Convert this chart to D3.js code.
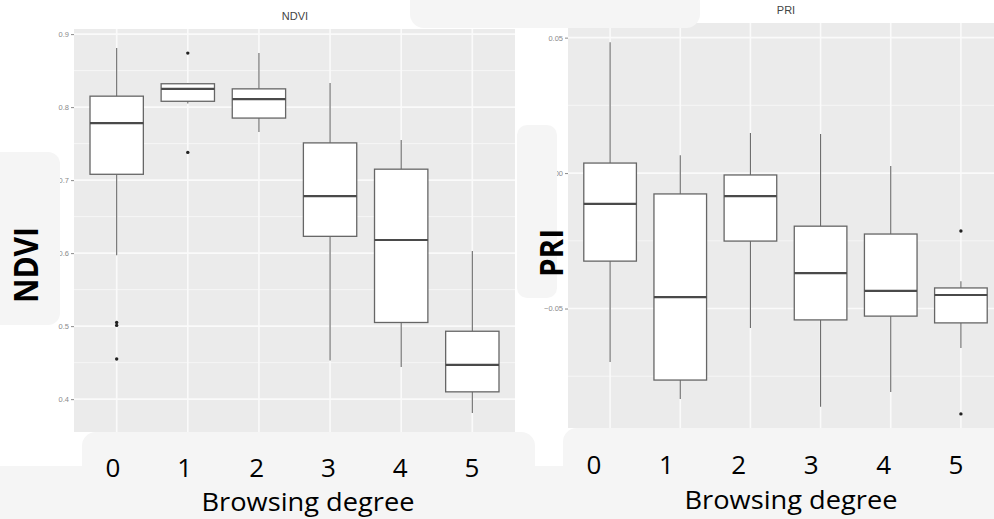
<!DOCTYPE html>
<html>
<head>
<meta charset="utf-8">
<script src="https://cdn.jsdelivr.net/npm/d3@7"></script>
<style>
  body { margin: 0; background: #fff; }
  svg { display: block; }
</style>
</head>
<body>
<div id="chart"></div>
<script>
// browsing degree groups
const categories = ["0", "1", "2", "3", "4", "5"];

// NDVI box stats
const ndviLow = [0.597, 0.805, 0.766, 0.453, 0.444, 0.381];
const ndviQ1 = [0.708, 0.808, 0.785, 0.623, 0.505, 0.410];
const ndviMedian = [0.778, 0.825, 0.811, 0.678, 0.618, 0.447];
const ndviQ3 = [0.815, 0.832, 0.825, 0.751, 0.715, 0.493];
const ndviHigh = [0.881, 0.833, 0.874, 0.833, 0.755, 0.603];
const ndviOutliers = [["0", 0.505], ["0", 0.501], ["0", 0.455], ["1", 0.874], ["1", 0.738]];
const ndviTicks = [0.4, 0.5, 0.6, 0.7, 0.8, 0.9];
const ndviMinor = [0.45, 0.55, 0.65, 0.75, 0.85];

// PRI box stats
const priLow = [-0.0697, -0.0834, -0.0572, -0.0863, -0.0808, -0.0646];
const priQ1 = [-0.0325, -0.0764, -0.0251, -0.0542, -0.0528, -0.0553];
const priMedian = [-0.0114, -0.0458, -0.0085, -0.0369, -0.0435, -0.0450];
const priQ3 = [0.0037, -0.0077, -0.0007, -0.0196, -0.0225, -0.0424];
const priHigh = [0.0483, 0.0066, 0.0148, 0.0144, 0.0026, -0.0399];
const priOutliers = [["5", -0.0214], ["5", -0.0889]];
const priTicks = [-0.05, 0, 0.05];
const priMinor = [-0.075, -0.025, 0.025];

const xLabel = "Browsing degree";

const svg = d3.select("#chart")
    .append("svg")
    .attr("width", 994)
    .attr("height", 519);

svg.append("rect")
    .attr("width", 994)
    .attr("height", 519)
    .attr("fill", "#fff");

class BoxPanel {
    constructor(_config, _data) {
        this.config = _config;
        this.data = _data;
        this.InitVis();
    }

    InitVis() {
        const vis = this;
        const c = vis.config;

        vis.g = svg.append("g");

        vis.x = d3.scalePoint()
            .domain(categories)
            .range([c.left, c.right])
            .padding(0.6);

        vis.y = d3.scaleLinear()
            .domain(c.domain)
            .range([c.bottom, c.top]);

        // panel background
        vis.g.append("rect")
            .attr("x", c.left)
            .attr("y", c.top)
            .attr("width", c.right - c.left)
            .attr("height", c.bottom - c.top)
            .attr("fill", "#ebebeb");

        // grid
        vis.g.selectAll(".minor")
            .data(c.minor)
            .enter()
            .append("line")
            .attr("x1", c.left)
            .attr("x2", c.right)
            .attr("y1", d => vis.y(d))
            .attr("y2", d => vis.y(d))
            .attr("stroke", "#f6f6f6")
            .attr("stroke-width", 1);

        vis.g.selectAll(".major")
            .data(c.ticks)
            .enter()
            .append("line")
            .attr("x1", c.left)
            .attr("x2", c.right)
            .attr("y1", d => vis.y(d))
            .attr("y2", d => vis.y(d))
            .attr("stroke", "#fafafa")
            .attr("stroke-width", 1.6);

        vis.g.selectAll(".vgrid")
            .data(categories)
            .enter()
            .append("line")
            .attr("x1", d => vis.x(d))
            .attr("x2", d => vis.x(d))
            .attr("y1", c.top)
            .attr("y2", c.bottom)
            .attr("stroke", "#fafafa")
            .attr("stroke-width", 1.6);

        // y axis
        const yAxis = d3.axisLeft(vis.y)
            .tickValues(c.ticks)
            .tickSize(3)
            .tickPadding(2)
            .tickFormat(c.format);

        const ax = vis.g.append("g")
            .attr("transform", `translate(${c.left},0)`)
            .call(yAxis);
        ax.select(".domain").remove();
        ax.selectAll("line").attr("stroke", "#8a8a8a");
        ax.selectAll("text")
            .attr("fill", "#8a8a8a")
            .attr("font-family", "Liberation Sans, sans-serif")
            .attr("font-size", "7.5px");

        // title
        vis.g.append("text")
            .attr("x", c.titleX)
            .attr("y", c.titleY)
            .attr("text-anchor", "middle")
            .attr("font-family", "Liberation Sans, sans-serif")
            .attr("font-size", "11px")
            .attr("fill", "#444")
            .text(c.title);

        vis.UpdateVis();
    }

    UpdateVis() {
        const vis = this;
        const d = vis.data;
        const bw = vis.x.step() * 0.75;

        const rows = categories.map((cat, i) => ({
            cat: cat,
            low: d.low[i], q1: d.q1[i], med: d.median[i], q3: d.q3[i], high: d.high[i]
        }));

        const boxes = vis.g.selectAll(".box")
            .data(rows)
            .enter()
            .append("g");

        boxes.append("line")
            .attr("x1", r => vis.x(r.cat))
            .attr("x2", r => vis.x(r.cat))
            .attr("y1", r => vis.y(r.high))
            .attr("y2", r => vis.y(r.q3))
            .attr("stroke", "#6a6a6a")
            .attr("stroke-width", 1.1);

        boxes.append("line")
            .attr("x1", r => vis.x(r.cat))
            .attr("x2", r => vis.x(r.cat))
            .attr("y1", r => vis.y(r.q1))
            .attr("y2", r => vis.y(r.low))
            .attr("stroke", "#6a6a6a")
            .attr("stroke-width", 1.1);

        boxes.append("rect")
            .attr("x", r => vis.x(r.cat) - bw / 2)
            .attr("y", r => vis.y(r.q3))
            .attr("width", bw)
            .attr("height", r => vis.y(r.q1) - vis.y(r.q3))
            .attr("fill", "#fff")
            .attr("stroke", "#666")
            .attr("stroke-width", 1.3);

        boxes.append("line")
            .attr("x1", r => vis.x(r.cat) - bw / 2)
            .attr("x2", r => vis.x(r.cat) + bw / 2)
            .attr("y1", r => vis.y(r.med))
            .attr("y2", r => vis.y(r.med))
            .attr("stroke", "#4a4a4a")
            .attr("stroke-width", 2.2);

        vis.g.selectAll(".outlier")
            .data(d.outliers)
            .enter()
            .append("circle")
            .attr("cx", o => vis.x(o[0]))
            .attr("cy", o => vis.y(o[1]))
            .attr("r", 1.7)
            .attr("fill", "#222");
    }
}

new BoxPanel({
    left: 74, right: 515, top: 29, bottom: 432,
    domain: [0.355, 0.907],
    ticks: ndviTicks, minor: ndviMinor,
    format: d3.format(".1f"),
    title: "NDVI", titleX: 295, titleY: 20
}, {low: ndviLow, q1: ndviQ1, median: ndviMedian, q3: ndviQ3, high: ndviHigh, outliers: ndviOutliers});

new BoxPanel({
    left: 568, right: 1003, top: 23, bottom: 428,
    domain: [-0.0941, 0.0554],
    ticks: priTicks, minor: priMinor,
    format: d3.format(".2f"),
    title: "PRI", titleX: 786, titleY: 14
}, {low: priLow, q1: priQ1, median: priMedian, q3: priQ3, high: priHigh, outliers: priOutliers});

// light overlay patches on top of the plots
const patchFill = "#f5f5f5";
const patches = [
    {x: 410, y: -20, w: 290, h: 48, r: 14},
    {x: -20, y: 152, w: 80, h: 173, r: 12},
    {x: 517, y: 125, w: 40, h: 173, r: 10},
    {x: 0, y: 466, w: 994, h: 60, r: 0},
    {x: 82, y: 432, w: 453, h: 100, r: 14},
    {x: 563, y: 428, w: 450, h: 100, r: 14}
];
svg.selectAll(".patch")
    .data(patches)
    .enter()
    .append("rect")
    .attr("x", p => p.x)
    .attr("y", p => p.y)
    .attr("width", p => p.w)
    .attr("height", p => p.h)
    .attr("rx", p => p.r)
    .attr("fill", patchFill);

// big overlay labels
const xTickLeft = d3.scalePoint().domain(categories).range([113, 472]);
const xTickRight = d3.scalePoint().domain(categories).range([594, 956]);

[[xTickLeft, 477, 308, 511], [xTickRight, 474, 791, 509]].forEach(([sc, ty, lx, ly]) => {
    svg.selectAll(null)
        .data(categories)
        .enter()
        .append("text")
        .attr("x", d => sc(d))
        .attr("y", ty)
        .attr("text-anchor", "middle")
        .attr("font-family", "Open Sans, sans-serif")
        .attr("font-size", "26px")
        .attr("fill", "#000")
        .text(d => d);

    svg.append("text")
        .attr("x", lx)
        .attr("y", ly)
        .attr("text-anchor", "middle")
        .attr("font-family", "Open Sans, sans-serif")
        .attr("font-size", "25px")
        .attr("fill", "#000")
        .attr("textLength", 213)
        .attr("lengthAdjust", "spacingAndGlyphs")
        .text(xLabel);
});

svg.append("text")
    .attr("transform", "translate(38,265) rotate(-90)")
    .attr("text-anchor", "middle")
    .attr("font-family", "Open Sans, sans-serif")
    .attr("font-weight", "bold")
    .attr("font-size", "34px")
    .attr("textLength", 76)
    .attr("lengthAdjust", "spacingAndGlyphs")
    .text("NDVI");

svg.append("text")
    .attr("transform", "translate(563,253) rotate(-90)")
    .attr("text-anchor", "middle")
    .attr("font-family", "Open Sans, sans-serif")
    .attr("font-weight", "bold")
    .attr("font-size", "32px")
    .attr("textLength", 48)
    .attr("lengthAdjust", "spacingAndGlyphs")
    .text("PRI");
</script>
</body>
</html>
